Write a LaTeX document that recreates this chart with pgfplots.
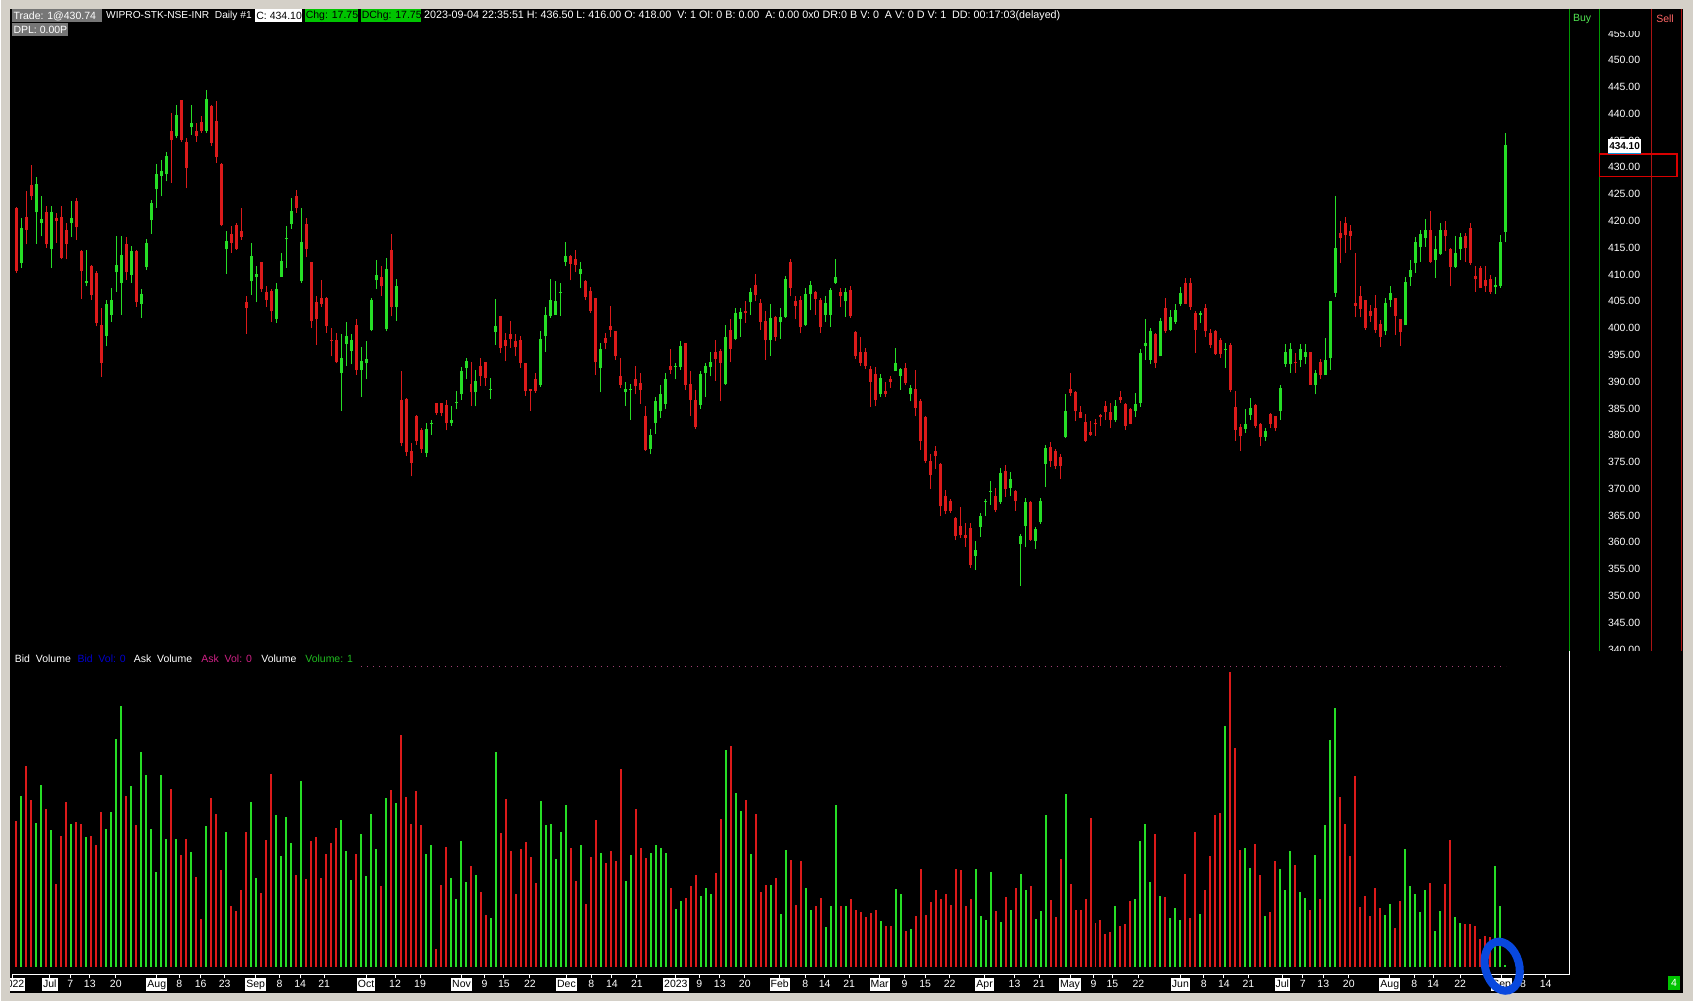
\documentclass[border=0pt]{standalone}
\usepackage{pgfplots}
\pgfplotsset{compat=1.18}
\usepackage{pgfplotstable}
\usepackage{fontspec}
\setmainfont{Liberation Sans}

\definecolor{upc}{RGB}{38,222,38}
\definecolor{dnc}{RGB}{220,26,26}
\definecolor{wingray}{RGB}{212,208,200}
\definecolor{hdrgray}{RGB}{118,118,118}
\definecolor{chggreen}{RGB}{0,196,0}
\definecolor{buygreen}{RGB}{0,150,0}
\definecolor{sellred}{RGB}{170,20,20}
\definecolor{annblue}{RGB}{8,72,222}

% WIPRO daily bars, index 0 = late June 2022 ... 298 = 4 Sep 2023
% v = height of the volume bar (screen units, no scale shown)
\pgfplotstableread{
i o h l c v
0 422.4 422.6 410.3 410.6 146
1 412.1 420.5 411.2 418.7 171
2 420.8 425.6 415.6 418.4 201
3 426.7 430.5 423.9 424.6 167
4 421.6 428.2 415.7 426.9 144
5 419.6 424.6 417.1 420.3 182
6 421.6 422.7 414.9 415.6 158
7 414.7 422.8 411.2 421.6 137
8 420.5 421.5 415.9 419.9 83
9 420.8 422.8 412.8 413.1 131
10 418.4 419.6 412.8 415.7 165
11 419.6 423.8 417.0 420.5 143
12 423.8 424.3 416.5 418.8 145
13 414.4 414.6 405.4 410.7 143
14 408.5 414.6 407.8 408.7 130
15 411.6 411.8 405.3 406.2 131
16 410.3 410.6 400.3 400.9 122
17 400.6 403.7 390.9 393.5 155
18 398.6 405.3 396.6 404.5 138
19 402.5 407.5 401.2 405.3 155
20 410.4 417.2 406.8 411.8 228
21 408.5 417.2 402.5 413.7 261
22 415.6 417.0 409.0 410.4 171
23 409.9 415.4 408.4 414.4 181
24 414.4 414.6 404.0 404.8 142
25 404.5 407.2 401.9 406.4 215
26 411.4 416.6 410.8 415.9 192
27 420.2 423.9 417.6 423.4 138
28 425.9 430.7 422.4 428.7 95
29 428.4 431.4 424.6 429.4 192
30 428.7 432.8 427.4 432.1 128
31 436.8 440.1 427.1 435.1 178
32 435.8 441.7 435.4 439.8 128
33 442.6 442.6 434.8 435.1 112
34 434.8 435.4 426.1 429.9 128
35 437.6 441.7 436.1 438.2 115
36 436.8 438.2 434.8 435.8 90
37 438.4 439.5 436.4 436.7 48
38 436.8 444.5 436.5 442.7 141
39 441.5 441.7 434.0 434.6 169
40 438.7 442.3 430.8 432.0 153
41 430.7 430.8 419.0 419.3 97
42 414.7 418.2 410.1 416.3 135
43 417.6 419.1 414.1 415.9 61
44 419.2 419.6 414.6 414.8 56
45 418.2 422.4 416.5 417.0 77
46 404.8 406.0 398.9 403.8 135
47 408.7 415.9 406.2 413.4 165
48 409.5 411.5 404.8 410.1 89
49 412.3 412.4 406.8 407.2 74
50 406.8 407.8 403.9 405.3 127
51 406.9 407.3 401.1 403.1 193
52 401.7 408.5 400.9 407.2 152
53 409.6 414.1 409.6 412.6 111
54 416.6 419.1 411.2 416.8 150
55 419.5 424.3 418.5 421.8 124
56 424.7 425.8 421.5 422.4 92
57 408.7 422.4 408.5 416.0 186
58 419.5 420.5 413.2 414.7 88
59 412.4 412.4 400.0 401.3 126
60 404.8 405.9 396.9 401.6 130
61 405.6 409.0 404.0 404.4 89
62 405.6 405.8 399.1 400.3 113
63 397.8 400.0 394.7 397.6 124
64 397.8 399.1 393.4 393.6 139
65 391.6 398.9 384.5 394.4 147
66 397.0 401.1 392.9 398.5 116
67 395.7 398.8 393.2 397.8 87
68 400.6 401.6 391.3 392.2 113
69 392.2 396.4 387.2 393.9 133
70 393.4 397.6 390.4 394.2 91
71 399.6 405.6 399.4 405.3 153
72 408.9 412.7 407.2 409.9 118
73 409.6 411.5 406.0 407.8 81
74 399.8 413.1 399.4 411.0 169
75 414.6 417.6 402.2 404.0 177
76 403.9 409.1 401.4 407.8 164
77 386.6 391.9 377.9 378.6 232
78 386.8 386.9 376.1 376.8 170
79 377.0 378.6 372.3 374.8 143
80 383.5 383.8 378.2 378.9 176
81 380.9 381.3 376.7 377.4 142
82 376.7 382.3 375.9 381.2 113
83 382.1 382.9 380.1 382.2 122
84 386.1 386.1 383.8 384.1 18
85 386.1 386.1 383.5 384.1 82
86 385.7 386.6 380.9 382.2 120
87 382.3 385.5 381.8 382.9 89
88 386.1 388.2 384.8 386.2 68
89 387.6 392.8 386.6 392.0 126
90 392.5 394.5 390.4 393.8 85
91 389.5 393.6 385.5 388.0 101
92 388.0 392.1 385.4 390.2 92
93 392.9 394.5 389.2 391.0 75
94 393.7 393.7 389.2 390.6 52
95 388.5 390.7 386.8 388.7 49
96 399.3 405.5 396.9 400.4 215
97 402.2 402.3 395.3 396.3 134
98 397.8 399.1 393.8 396.7 168
99 398.8 401.4 396.3 397.9 116
100 397.6 398.8 394.7 396.4 73
101 397.7 398.6 392.5 393.5 118
102 393.5 393.5 387.4 388.2 125
103 388.6 388.6 384.6 388.3 110
104 390.4 391.6 387.9 388.3 84
105 389.4 399.5 389.0 397.9 166
106 398.6 403.9 395.6 402.5 142
107 402.3 409.1 401.9 405.3 143
108 402.5 408.7 402.5 405.0 108
109 406.6 408.5 402.3 406.7 135
110 412.4 416.0 411.5 413.5 162
111 413.5 413.7 408.9 412.0 119
112 412.9 414.6 410.4 411.8 86
113 410.0 412.4 407.5 411.0 122
114 408.7 409.0 405.2 405.8 63
115 407.0 407.6 402.9 403.2 110
116 405.6 405.6 391.2 393.6 147
117 392.5 397.2 388.0 396.1 114
118 398.1 399.1 396.0 397.3 104
119 400.4 404.2 398.4 399.6 116
120 399.5 399.5 394.1 394.7 106
121 391.1 394.4 388.8 389.4 198
122 388.0 390.0 385.5 388.7 86
123 388.5 389.6 382.9 388.7 112
124 390.5 393.0 387.6 389.1 158
125 389.7 391.6 385.8 388.4 119
126 383.6 385.5 377.0 377.2 109
127 377.4 381.2 376.4 380.1 114
128 382.2 387.1 380.3 386.3 122
129 384.6 389.3 383.2 387.7 119
130 385.8 391.6 384.8 390.4 114
131 392.9 396.1 391.4 392.2 79
132 392.8 393.5 390.4 392.9 58
133 392.7 397.5 392.2 396.7 66
134 397.2 397.3 388.5 389.4 69
135 389.6 391.9 383.6 386.6 81
136 386.6 388.5 381.2 381.5 92
137 385.7 392.0 384.9 391.5 71
138 391.6 393.5 387.1 392.9 79
139 392.7 395.6 391.0 393.6 73
140 395.5 397.7 390.2 394.2 94
141 395.8 396.1 386.3 393.5 148
142 389.6 400.6 389.4 398.3 217
143 399.7 401.7 393.6 396.1 221
144 398.0 403.7 397.7 402.8 174
145 401.7 403.7 398.4 403.0 156
146 403.2 405.1 401.0 402.8 167
147 404.8 407.5 402.5 406.7 113
148 408.1 410.0 405.0 406.1 153
149 404.7 405.4 399.7 401.1 75
150 401.3 403.1 394.1 397.7 82
151 397.7 404.5 394.8 401.9 82
152 402.0 402.2 397.5 398.4 89
153 401.1 403.7 398.0 402.0 53
154 402.1 409.8 401.9 409.1 117
155 412.3 412.9 405.9 407.5 107
156 405.1 405.9 401.6 404.2 62
157 405.3 405.9 399.0 400.2 106
158 400.6 407.5 400.4 406.4 79
159 406.4 408.7 403.3 408.1 57
160 406.7 407.0 402.5 405.4 61
161 405.3 405.6 399.1 400.2 69
162 402.5 405.9 401.2 404.7 40
163 402.4 407.5 400.2 407.1 61
164 408.4 412.9 408.3 409.5 162
165 406.7 407.5 403.9 405.9 61
166 405.0 407.5 402.1 406.8 61
167 407.1 407.8 401.9 402.2 68
168 399.2 399.5 394.2 394.7 57
169 395.6 398.4 392.9 393.5 55
170 395.6 396.3 392.4 392.9 50
171 392.4 393.0 385.3 389.9 54
172 391.5 392.8 385.4 386.6 57
173 387.6 391.5 387.1 390.7 46
174 388.3 390.0 387.1 387.6 41
175 390.4 391.1 388.8 390.0 41
176 391.9 396.3 391.9 393.5 78
177 391.1 392.5 388.5 392.3 73
178 392.5 393.5 389.4 389.7 36
179 387.6 389.4 386.3 388.9 38
180 388.6 392.2 383.5 385.1 51
181 386.3 386.7 377.3 379.0 98
182 383.4 383.5 374.8 375.2 52
183 375.1 376.4 370.0 372.5 65
184 377.0 377.9 373.7 376.1 77
185 374.7 374.8 364.9 366.7 68
186 368.7 369.7 365.2 365.8 73
187 367.7 368.0 365.5 365.8 62
188 364.6 364.7 360.4 361.1 98
189 363.0 366.5 360.8 361.3 97
190 361.4 363.6 359.1 360.8 61
191 362.7 363.6 355.2 355.7 68
192 357.5 360.2 354.8 358.6 98
193 362.9 365.5 361.0 365.0 51
194 367.6 368.0 365.0 367.7 47
195 369.4 371.5 367.0 369.5 95
196 368.7 370.1 365.6 366.1 56
197 367.5 373.9 367.2 372.9 45
198 373.3 374.5 368.5 369.9 70
199 370.1 373.1 368.7 371.8 57
200 369.5 369.7 365.8 367.8 79
201 359.6 361.6 351.9 361.1 93
202 363.0 368.3 359.1 367.5 77
203 367.5 367.7 360.2 360.4 81
204 360.2 362.9 358.8 362.5 48
205 363.7 368.3 363.5 367.8 56
206 374.6 378.2 370.3 377.6 152
207 377.8 378.7 374.1 375.1 67
208 377.1 377.4 373.7 374.3 50
209 375.9 376.5 371.8 374.2 108
210 379.7 387.7 379.5 384.6 173
211 388.6 391.7 387.4 387.9 83
212 388.0 388.2 382.6 384.6 57
213 384.3 385.4 383.2 383.3 57
214 382.5 384.0 378.7 379.0 68
215 380.6 382.6 379.9 380.0 149
216 382.3 383.0 379.9 382.0 44
217 383.7 384.0 381.8 383.4 47
218 385.4 386.3 382.9 384.3 33
219 384.3 386.0 381.3 382.8 35
220 382.8 386.6 382.4 385.5 61
221 387.1 388.2 386.1 386.5 41
222 385.9 386.0 381.0 381.8 43
223 384.9 385.1 382.0 382.1 66
224 384.5 387.9 383.4 385.9 68
225 386.0 396.1 385.3 395.3 126
226 396.6 401.7 394.1 397.2 143
227 394.1 400.0 393.2 399.4 85
228 398.8 399.1 392.5 393.5 133
229 394.7 401.9 394.7 401.4 71
230 403.7 405.6 399.1 399.4 70
231 399.7 403.4 399.4 402.0 49
232 401.2 404.5 400.8 403.4 59
233 404.5 407.6 404.2 406.6 47
234 408.4 409.3 404.4 404.5 93
235 408.5 409.3 403.4 403.9 49
236 402.9 403.1 395.3 399.7 135
237 402.5 403.2 401.0 402.9 53
238 403.7 404.4 398.4 399.4 77
239 399.1 399.8 396.3 396.9 111
240 399.4 399.7 395.0 395.2 152
241 397.7 398.1 394.4 395.2 154
242 396.0 397.2 392.5 396.1 241
243 396.9 397.2 388.0 388.5 295
244 385.3 388.2 379.0 381.0 219
245 381.6 382.1 377.0 379.8 117
246 381.2 384.8 380.4 382.1 119
247 383.8 386.9 382.8 385.1 99
248 385.7 385.9 381.3 381.8 123
249 382.1 382.3 378.0 379.7 92
250 379.7 381.3 379.0 380.7 51
251 384.0 384.1 381.3 382.1 55
252 383.5 383.5 380.7 381.3 106
253 384.6 389.4 382.9 388.8 98
254 393.3 397.1 392.8 395.5 77
255 393.3 397.2 391.6 396.0 116
256 393.6 395.3 391.6 393.4 102
257 394.1 397.1 392.8 396.0 75
258 394.6 397.1 393.2 395.5 69
259 395.5 395.5 389.4 389.4 57
260 389.4 392.1 387.6 391.6 112
261 393.6 394.2 390.4 391.3 68
262 391.3 398.1 391.3 394.1 142
263 394.4 405.0 392.2 405.0 227
264 406.6 424.7 405.8 414.9 259
265 417.7 419.9 412.1 416.8 170
266 419.6 420.8 414.0 417.4 143
267 418.2 419.3 414.6 417.2 111
268 404.7 414.0 402.0 404.2 191
269 405.9 407.8 402.0 403.5 60
270 405.2 405.3 399.7 400.0 71
271 403.1 404.3 401.2 402.3 51
272 403.7 406.2 399.1 399.6 79
273 400.8 401.5 396.5 398.3 59
274 399.4 405.6 398.7 404.7 52
275 405.3 407.8 403.9 406.5 63
276 405.6 405.6 398.7 402.3 39
277 401.7 401.7 396.7 399.2 66
278 400.5 409.6 400.5 408.6 118
279 409.5 412.7 407.9 410.8 81
280 412.1 417.0 410.3 416.0 73
281 415.1 418.3 412.4 417.6 55
282 416.8 420.3 415.2 418.3 77
283 418.3 421.8 412.1 412.4 84
284 412.7 417.1 409.3 414.7 36
285 413.9 419.7 413.7 418.3 56
286 418.3 419.9 414.3 417.1 83
287 414.7 414.9 407.8 411.4 127
288 411.4 417.1 411.2 414.1 50
289 414.7 417.8 412.7 417.0 44
290 417.1 417.7 412.4 414.9 43
291 418.7 419.6 411.8 412.1 43
292 409.8 411.5 406.8 409.1 41
293 411.2 411.6 407.5 407.5 28
294 408.9 411.5 406.8 407.8 31
295 409.1 409.9 406.4 406.8 30
296 407.6 409.6 406.4 408.1 101
297 407.9 417.4 407.5 416.0 61
298 418.0 436.5 416.0 434.1 2
}\wipro

\newcommand{\sm}{\fontsize{10.5}{12}\selectfont}

\begin{document}
\begin{tikzpicture}[x=1pt,y=1pt,font=\sm]
% window and black chart area
\fill[wingray] (0,0) rectangle (1693,1002);
\fill[black] (9,8) rectangle (1683,993);

% price panel
\begin{axis}[at={(11pt,350pt)}, anchor=south west, scale only axis,
  width=1558pt, height=643pt,
  xmin=-0.8, xmax=310.8, ymin=339.62, ymax=459.57,
  restrict x to domain=-2:320,
  axis line style={draw=none}, xtick=\empty,
  ytick={340,345,...,455}, yticklabel pos=right, major tick length=0pt,
  /pgf/number format/assume math mode=true,
  yticklabel={\pgfmathprintnumber[fixed,fixed zerofill,precision=2]{\tick}},
  yticklabel style={text=white, anchor=center, xshift=55pt, font=\sm}]
% wicks
\addplot[upc, line width=1pt, quiver={u=0, v=\thisrow{h}-\thisrow{l}}]
  table[x expr={\thisrow{c}<\thisrow{o} ? -100 : \thisrow{i}}, y=l] {\wipro};
\addplot[dnc, line width=1pt, quiver={u=0, v=\thisrow{h}-\thisrow{l}}]
  table[x expr={\thisrow{c}<\thisrow{o} ? \thisrow{i} : -100}, y=l] {\wipro};
% bodies
\addplot[upc, line width=3pt, quiver={u=0, v=\thisrow{c}-\thisrow{o}}]
  table[x expr={\thisrow{c}<\thisrow{o} ? -100 : \thisrow{i}}, y=o] {\wipro};
\addplot[dnc, line width=3pt, quiver={u=0, v=\thisrow{o}-\thisrow{c}}]
  table[x expr={\thisrow{c}<\thisrow{o} ? \thisrow{i} : -100}, y=c] {\wipro};
\end{axis}

% volume panel with the date axis
\begin{axis}[at={(11pt,27pt)}, anchor=south west, scale only axis,
  width=1558pt, height=323pt,
  xmin=-0.8, xmax=310.8, ymin=-7.7, ymax=315.3,
  restrict x to domain=-2:320,
  axis line style={draw=none}, ytick=\empty,
  xtick={10.8,14.7,19.9,32.6,36.9,41.7,52.7,56.8,61.6,75.8,80.8,93.7,97.6,102.8,115.1,119.2,124.2,136.7,140.8,145.8,157.9,161.8,166.7,177.8,181.9,186.8,199.8,204.7,215.6,219.4,224.6,237.7,241.7,246.6,257.5,261.6,266.7,279.8,283.6,289,301.6,306.1},
  xticklabels={7,13,20,8,16,23,8,14,21,12,19,9,15,22,8,14,21,9,13,20,8,14,21,9,15,22,13,21,9,15,22,8,14,21,7,13,20,8,14,22,8,14},
  extra x ticks={-0.74,6.7,28.1,47.9,70,89.1,110.1,132,152.8,172.8,193.8,210.9,233,253.4,274.9,297.3},
  extra x tick labels={2022,Jul,Aug,Sep,Oct,Nov,Dec,2023,Feb,Mar,Apr,May,Jun,Jul,Aug,Sep},
  extra x tick style={xticklabel style={fill=white, text=black}},
  xtick pos=left, tick align=outside, major tick length=4pt,
  tick style={white, line width=1pt},
  xticklabel style={text=white, font=\sm, inner sep=1pt, text height=8.5pt, text depth=2.5pt}]
\addplot[upc, line width=2pt, quiver={u=0, v=\thisrow{v}}]
  table[x expr={\thisrow{c}<\thisrow{o} ? -100 : \thisrow{i}}, y expr=0] {\wipro};
\addplot[dnc, line width=2pt, quiver={u=0, v=\thisrow{v}}]
  table[x expr={\thisrow{c}<\thisrow{o} ? \thisrow{i} : -100}, y expr=0] {\wipro};
\end{axis}

% screen furniture, drawn with y measured downwards from the top
\begin{scope}[shift={(0,1002)}, yscale=-1]
  % cut price labels at the panel edges
  \fill[black] (1600,9) rectangle (1650,31.5);
  \fill[black] (1600,652) rectangle (1650,664);
  % panel separators
  \draw[buygreen, line width=1pt] (1569,9) -- (1569,652);
  \draw[buygreen, line width=1pt] (1599,9) -- (1599,652);
  \draw[sellred, line width=1pt] (1651,9) -- (1651,652);
  \draw[sellred, line width=1pt] (1681,9) -- (1681,652);
  \draw[white, line width=1pt] (1569,652) -- (1569,975) -- (11,975);
  \node[text=upc!80!white] at (1582,19) {Buy};
  \node[text=red!60!white] at (1665,19) {Sell};
  % last price marker (sits over the 435.00 label, as on screen)
  \draw[red!85!black, line width=1.5pt] (1599.5,154) rectangle (1677,176.5);
  \fill[white] (1608,139.5) rectangle (1641,152.7);
  \fill[cyan!80!blue] (1608,152.7) rectangle (1641,154.3);
  \node[text=black, font=\fontsize{10}{11}\selectfont\bfseries, inner sep=0] at (1624.5,146.3) {434.10};
  % header line
  \fill[hdrgray] (10.8,9.5) rectangle (100.4,22.5);
  \node[anchor=west, inner sep=0, text=white] at (12,16) {Trade: 1@430.74};
  \node[anchor=west, inner sep=0, text=white, font=\fontsize{10.2}{12}\selectfont] at (104.7,16) {WIPRO-STK-NSE-INR\ \ Daily \#1};
  \fill[white] (253.7,9.5) rectangle (301.2,22.5);
  \node[anchor=west, inner sep=0, text=black] at (255,16) {C: 434.10};
  \fill[chggreen] (303.4,9.5) rectangle (357.4,22.5);
  \node[anchor=west, inner sep=0, text=black] at (304.5,16) {Chg: 17.75};
  \fill[chggreen] (359.5,9.5) rectangle (420,22.5);
  \node[anchor=west, inner sep=0, text=black] at (360.5,16) {DChg: 17.75};
  \node[anchor=west, inner sep=0, text=white, font=\fontsize{10.75}{12}\selectfont] at (423,16)
    {2023-09-04 22:35:51 H: 436.50 L: 416.00 O: 418.00\ \ V: 1 OI: 0 B: 0.00\ \ A: 0.00 0x0 DR:0 B V: 0\ \ A V: 0 D V: 1\ \ DD: 00:17:03(delayed)};
  \fill[hdrgray] (10.8,23) rectangle (67,36);
  \node[anchor=west, inner sep=0, text=white] at (12,29.5) {DPL: 0.00P};
  % volume legend
  \node[anchor=west, inner sep=0, text=white] at (13.3,659) {Bid\ \ Volume};
  \node[anchor=west, inner sep=0, text=blue!80!black] at (76,659) {Bid\ \ Vol: 0};
  \node[anchor=west, inner sep=0, text=white] at (132.3,659) {Ask\ \ Volume};
  \node[anchor=west, inner sep=0, text=magenta!85!black] at (200,659) {Ask\ \ Vol: 0};
  \node[anchor=west, inner sep=0, text=white] at (260,659) {Volume};
  \node[anchor=west, inner sep=0, text=upc!85!black] at (304,659) {Volume: 1};
  \draw[magenta!60!black, line width=1pt, dash pattern=on 1pt off 5pt] (360,667.3) -- (1506,667.3);
  % page counter box
  \fill[chggreen] (1668,977) rectangle (1680,991);
  \node[text=white, inner sep=0] at (1674,984) {4};
\end{scope}
% hand-drawn marker round the last volume bar
\draw[annblue, line width=8pt, rotate around={15:(1502,35)}] (1502,35) ellipse (17 and 25);
% window edge over the clipped first label
\fill[wingray] (0,0) rectangle (9,1002);
\end{tikzpicture}
\end{document}
